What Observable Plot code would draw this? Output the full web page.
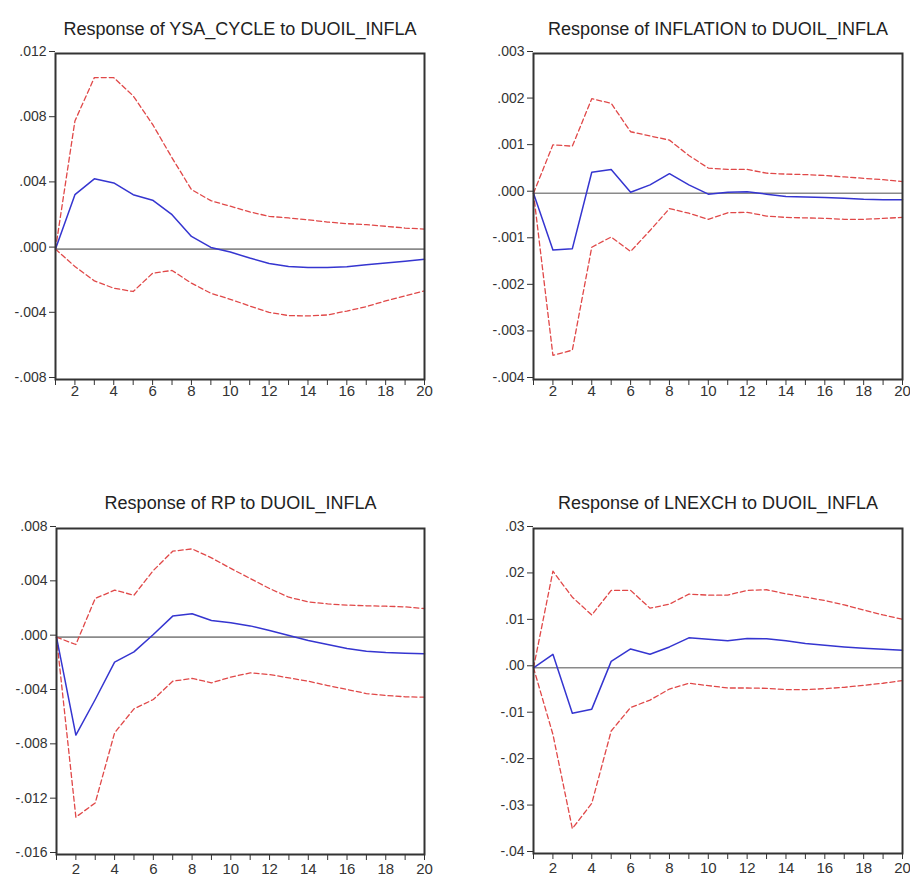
<!DOCTYPE html>
<html>
<head>
<meta charset="utf-8">
<script src="https://cdn.jsdelivr.net/npm/d3@7"></script>
<script src="https://cdn.jsdelivr.net/npm/@observablehq/plot@0.6"></script>
<style>
  html, body { margin: 0; padding: 0; background: #fff; }
  #wrap { position: relative; width: 910px; height: 881px; overflow: hidden; background: #fff; }
  #wrap > svg { position: absolute; }
</style>
</head>
<body>
<div id="wrap"></div>
<script>
// ---------- data ----------
const horizons = [1,2,3,4,5,6,7,8,9,10,11,12,13,14,15,16,17,18,19,20];

const titles = [
  "Response of YSA_CYCLE to DUOIL_INFLA",
  "Response of INFLATION to DUOIL_INFLA",
  "Response of RP to DUOIL_INFLA",
  "Response of LNEXCH to DUOIL_INFLA"
];

// YSA_CYCLE
const ysaResp = [0, 0.00334, 0.00431, 0.00406, 0.00334, 0.0030, 0.00211, 0.00078, 0.0001, -0.00018, -0.00055, -0.00088, -0.00107, -0.00113, -0.00113, -0.00109, -0.00096, -0.00086, -0.00074, -0.00062];
const ysaHi   = [0, 0.00786, 0.01052, 0.01052, 0.0094, 0.00765, 0.0056, 0.00365, 0.00297, 0.00263, 0.00228, 0.00201, 0.00191, 0.0018, 0.00166, 0.00156, 0.0015, 0.0014, 0.00129, 0.00123];
const ysaLo   = [0, -0.00107, -0.00195, -0.0024, -0.0026, -0.00148, -0.00131, -0.00209, -0.00271, -0.00308, -0.00349, -0.00388, -0.00408, -0.0041, -0.00404, -0.0038, -0.00353, -0.00318, -0.00287, -0.00256];
const ysaTicks = [-0.008, -0.004, 0, 0.004, 0.008, 0.012];

// INFLATION
const infResp = [0, -0.00122, -0.00119, 0.00045, 0.00051, 0.00002, 0.00018, 0.00042, 0.00018, -0.00002, 0.00002, 0.00003, -0.00002, -0.00007, -0.00008, -0.00009, -0.00011, -0.00013, -0.00014, -0.00014];
const infHi   = [0, 0.00104, 0.00101, 0.00203, 0.00193, 0.00132, 0.00123, 0.00114, 0.00081, 0.00054, 0.00051, 0.00051, 0.00043, 0.00041, 0.0004, 0.00038, 0.00035, 0.00032, 0.00029, 0.00025];
const infLo   = [0, -0.00348, -0.00337, -0.00116, -0.00094, -0.00125, -0.0008, -0.00033, -0.00043, -0.00056, -0.00042, -0.00041, -0.00049, -0.00052, -0.00053, -0.00054, -0.00056, -0.00056, -0.00054, -0.00052];
const infTicks = [-0.004, -0.003, -0.002, -0.001, 0, 0.001, 0.002, 0.003];

// RP
const rpResp = [0, -0.00721, -0.00459, -0.00184, -0.00108, 0.0002, 0.00155, 0.00172, 0.00123, 0.00106, 0.00083, 0.00049, 0.00012, -0.00025, -0.00054, -0.00083, -0.00103, -0.00113, -0.00118, -0.00123];
const rpHi   = [0, -0.00054, 0.00285, 0.00346, 0.00309, 0.00491, 0.00633, 0.0065, 0.00584, 0.00506, 0.00432, 0.00358, 0.00294, 0.0026, 0.00245, 0.00236, 0.00231, 0.00228, 0.00223, 0.00211];
const rpLo   = [0, -0.01325, -0.0122, -0.00704, -0.00528, -0.00459, -0.00324, -0.00304, -0.00336, -0.00294, -0.00263, -0.00275, -0.003, -0.00324, -0.00356, -0.00385, -0.00415, -0.00429, -0.00439, -0.00442];
const rpTicks = [-0.016, -0.012, -0.008, -0.004, 0, 0.004, 0.008];

// LNEXCH
const lnxResp = [0, 0.0029, -0.00978, -0.00891, 0.00138, 0.00406, 0.0029, 0.00449, 0.00645, 0.00616, 0.0058, 0.0063, 0.00623, 0.0058, 0.00522, 0.00486, 0.00449, 0.0042, 0.004, 0.00377];
const lnxHi   = [0, 0.0208, 0.0152, 0.01138, 0.01667, 0.01667, 0.01283, 0.0137, 0.01587, 0.01565, 0.01565, 0.01667, 0.01681, 0.01594, 0.01522, 0.01449, 0.01355, 0.01246, 0.01138, 0.01043];
const lnxLo   = [0, -0.01435, -0.03464, -0.0292, -0.01362, -0.00855, -0.00696, -0.00457, -0.00333, -0.00384, -0.00435, -0.00435, -0.00442, -0.00471, -0.00471, -0.00449, -0.0042, -0.00377, -0.00333, -0.00275];
const lnxTicks = [-0.04, -0.03, -0.02, -0.01, 0, 0.01, 0.02, 0.03];

// ---------- drawing ----------
const fmt = (digits) => (d) => d3.format("." + digits + "f")(d).replace("\u2212", "-").replace("0.", ".");

function panel(cfg) {
  const rows = horizons.map((h, i) => ({h, resp: cfg.resp[i], lo: cfg.lo[i], hi: cfg.hi[i]}));
  const svg = Plot.plot({
    width: cfg.width,
    height: cfg.height,
    marginLeft: cfg.ml, marginRight: cfg.mr, marginTop: cfg.mt, marginBottom: cfg.mb,
    style: {fontFamily: "'Liberation Sans', Arial, sans-serif", color: "#333", background: "transparent", overflow: "visible"},
    x: {domain: [1, 20]},
    y: {domain: [cfg.ticks[0], cfg.ticks[cfg.ticks.length - 1]]},
    marks: [
      Plot.ruleY([0], {stroke: "#8a8a8a", strokeWidth: 1.6}),
      Plot.line(rows, {x: "h", y: "hi", stroke: "#e04848", strokeWidth: 1.3, strokeDasharray: "5,3"}),
      Plot.line(rows, {x: "h", y: "lo", stroke: "#e04848", strokeWidth: 1.3, strokeDasharray: "5,3"}),
      Plot.line(rows, {x: "h", y: "resp", stroke: "#3535d0", strokeWidth: 1.5}),
      Plot.frame({stroke: "#333", strokeWidth: 2}),
      Plot.axisY({ticks: cfg.ticks, tickFormat: fmt(cfg.digits), tickSize: 6, tickPadding: 3, dy: -2, fontSize: 14, label: null, fill: "#333"}),
      Plot.axisX({ticks: horizons, tickFormat: d => (d % 2 === 0 ? String(d) : ""), tickSize: 6, tickPadding: cfg.xpad, fontSize: 15, label: null, fill: "#333"}),
      Plot.text([cfg.title], {frameAnchor: "top", dy: cfg.tdy, fontSize: 18, fill: "#222"})
    ]
  });
  svg.style.left = cfg.left + "px";
  svg.style.top = cfg.top + "px";
  document.getElementById("wrap").appendChild(svg);
}

panel({title: titles[0], resp: ysaResp, lo: ysaLo, hi: ysaHi, ticks: ysaTicks, digits: 3,
  left: 0, top: 0, width: 455, height: 420, ml: 55, mr: 31, mt: 53, mb: 41, tdy: -31, xpad: 0});
panel({title: titles[1], resp: infResp, lo: infLo, hi: infHi, ticks: infTicks, digits: 3,
  left: 455, top: 0, width: 455, height: 420, ml: 78, mr: 8, mt: 53, mb: 41, tdy: -31, xpad: 0});
panel({title: titles[2], resp: rpResp, lo: rpLo, hi: rpHi, ticks: rpTicks, digits: 3,
  left: 0, top: 460, width: 455, height: 421, ml: 56, mr: 31, mt: 68, mb: 27, tdy: -32, xpad: 3});
panel({title: titles[3], resp: lnxResp, lo: lnxLo, hi: lnxHi, ticks: lnxTicks, digits: 2,
  left: 455, top: 460, width: 455, height: 421, ml: 78, mr: 8, mt: 68, mb: 28, tdy: -32, xpad: 3});
</script>
</body>
</html>
